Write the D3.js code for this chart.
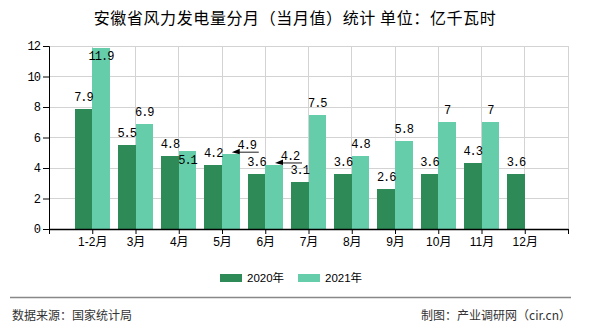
<!DOCTYPE html>
<html><head><meta charset="utf-8">
<script src="https://cdn.jsdelivr.net/npm/d3@7/dist/d3.min.js"></script>
<style>body{margin:0;background:#fff}svg{display:block}</style>
</head><body><svg id="c" width="590" height="330"></svg>
<script>
const categories = ["1-2月","3月","4月","5月","6月","7月","8月","9月","10月","11月","12月"];
const seriesNames = ["2020年","2021年"];
const values2020 = [7.9,5.5,4.8,4.2,3.6,3.1,3.6,2.6,3.6,4.3,3.6];
const values2021 = [11.9,6.9,5.1,4.9,4.2,7.5,4.8,5.8,7,7,null];
const yTicks = [0,2,4,6,8,10,12];
const colors = ["#2e8b57","#66cdaa"];
const title = "安徽省风力发电量分月（当月值）统计 单位：亿千瓦时";
const sourceText = "数据来源：国家统计局";
const creditText = "制图：产业调研网（cir.cn）";

const svg = d3.select("#c");
const L=49,R=568,T=46,B=229;
const x = d3.scaleLinear().domain([0,categories.length+1]).range([L,R]);
const y = d3.scaleLinear().domain([0,12]).range([B,T]);
const step = x(1)-x(0);
const bw = step*0.405;
const monoFont = "'Liberation Mono', monospace";

svg.append("text").attr("x",295).attr("y",24).attr("text-anchor","middle")
  .attr("font-family","'Noto Sans CJK SC'").attr("font-size",16).attr("letter-spacing",0.6)
  .attr("fill","#000").text(title);

// grid
const g = svg.append("g");
g.selectAll(".hg").data(yTicks).join("line")
  .attr("x1",L).attr("x2",R).attr("y1",d=>y(d)).attr("y2",d=>y(d))
  .attr("stroke","#d3d3d3").attr("stroke-width",1).attr("shape-rendering","crispEdges");
g.selectAll(".vg").data(d3.range(1,categories.length+2)).join("line")
  .attr("x1",d=>x(d)).attr("x2",d=>x(d)).attr("y1",T).attr("y2",B)
  .attr("stroke","#d3d3d3").attr("stroke-width",1).attr("shape-rendering","crispEdges");

// bars
const series=[values2020,values2021];
series.forEach((vals,si)=>{
  svg.append("g").selectAll("rect").data(vals.map((v,i)=>({v,i}))).join("rect")
    .filter(d=>d.v!=null)
    .attr("x",d=> si===0 ? x(d.i+1)-bw : x(d.i+1))
    .attr("width",bw)
    .attr("y",d=>y(d.v)).attr("height",d=>B-y(d.v))
    .attr("fill",colors[si]).attr("shape-rendering","crispEdges");
});

// axes
const yAxis = d3.axisLeft(y).tickValues(yTicks).tickSize(6).tickFormat(d3.format("d"));
const ya = svg.append("g").attr("transform",`translate(${L},0)`).call(yAxis);
ya.select(".domain").attr("stroke","#000");
ya.selectAll(".tick line").attr("stroke","#000");
ya.selectAll("text").attr("font-family",monoFont).attr("font-size",12).attr("letter-spacing",-1).attr("fill","#000").attr("x",-9);

const xAxis = d3.axisBottom(x).tickValues(d3.range(0,categories.length+2)).tickSize(5).tickSizeOuter(0)
  .tickFormat(d=> (d>=1 && d<=categories.length) ? categories[d-1] : "");
const xa = svg.append("g").attr("transform",`translate(0,${B})`).call(xAxis);
xa.select(".domain").attr("stroke","#000").attr("stroke-width",1.5);
xa.selectAll(".tick line").attr("stroke","#000");
xa.selectAll("text").attr("font-family","'Liberation Sans','Noto Sans CJK SC'").attr("font-size",12).attr("fill","#000").attr("y",8);

// labels
const adjust = {"1-0":{dx:0,dy:20},"1-2":{dx:0,dy:21},"1-3":{dx:16,dy:3,arrow:true},"1-4":{dx:16,dy:3,arrow:true}};
const lab = svg.append("g").attr("font-family",monoFont).attr("font-size",12).attr("letter-spacing",-1).attr("fill","#000");
series.forEach((vals,si)=>{
  vals.forEach((v,i)=>{
    if(v==null) return;
    const cx = si===0 ? x(i+1)-bw/2 : x(i+1)+bw/2;
    const a = adjust[si+"-"+i] || {dx:0,dy:0};
    const ty = y(v)-8+a.dy;
    if(a.arrow){
      const ly = y(v)-2;
      lab.append("line").attr("x1",cx+a.dx+12).attr("x2",cx+4).attr("y1",ly).attr("y2",ly)
        .attr("stroke","#666").attr("stroke-width",1.5);
      lab.append("path").attr("d",`M${cx+1},${ly} L${cx+9},${ly-3.5} L${cx+9},${ly+2}Z`).attr("fill","#000");
    }
    lab.append("text").attr("x",cx+a.dx).attr("y",ty).attr("text-anchor","middle").text(String(v));
  });
});

// legend
const leg = svg.append("g");
const legX=[220,298];
seriesNames.forEach((n,i)=>{
  leg.append("rect").attr("x",legX[i]).attr("y",274).attr("width",22).attr("height",8).attr("fill",colors[i]);
  leg.append("text").attr("x",legX[i]+27).attr("y",282).attr("font-family","'Liberation Sans','Noto Sans CJK SC'")
    .attr("font-size",11.5).attr("fill","#000").text(n);
});

// footer
svg.append("line").attr("x1",10).attr("x2",571).attr("y1",297.5).attr("y2",297.5).attr("stroke","#888").attr("stroke-width",1.5);
svg.append("text").attr("x",12).attr("y",320).attr("font-family","'Noto Sans CJK SC'").attr("font-size",12).attr("fill","#333").text(sourceText);
svg.append("text").attr("x",571).attr("y",320).attr("text-anchor","end").attr("font-family","'Noto Sans CJK SC'").attr("font-size",12).attr("fill","#333").text(creditText);
</script></body></html>
